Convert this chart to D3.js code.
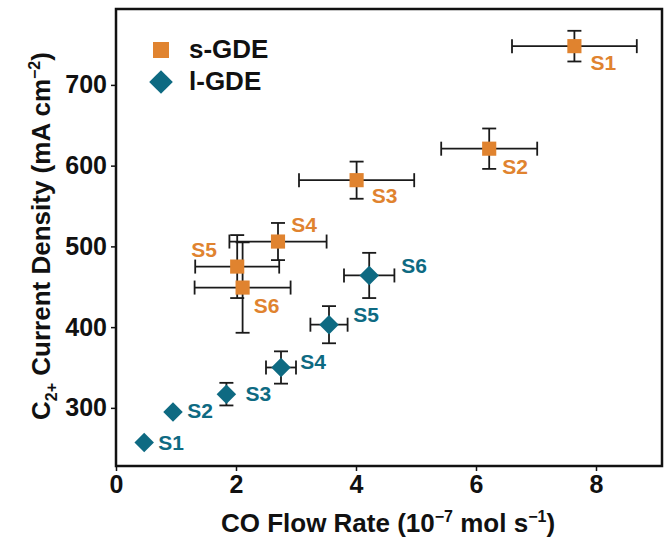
<!DOCTYPE html>
<html>
<head>
<meta charset="utf-8">
<script src="https://cdn.jsdelivr.net/npm/d3@7"></script>
<style>
  body { margin: 0; background: #fff; }
  text { font-family: "Liberation Sans", Arial, sans-serif; }
</style>
</head>
<body>
<svg id="chart" width="672" height="539"></svg>
<script>
// s-GDE (orange squares)
var sNames = ["S1", "S2", "S3", "S4", "S5", "S6"];
var sFlow = [7.64, 6.22, 4.01, 2.70, 2.02, 2.11];
var sFlowErr = [1.04, 0.80, 0.96, 0.81, 0.70, 0.80];
var sCurrent = [748, 621, 582, 506, 475, 449];
var sCurrentErr = [19, 25, 23, 23, 39, 56];

// l-GDE (teal diamonds)
var lNames = ["S1", "S2", "S3", "S4", "S5", "S6"];
var lFlow = [0.47, 0.95, 1.84, 2.75, 3.55, 4.22];
var lFlowErr = [0, 0, 0, 0.25, 0.31, 0.42];
var lCurrent = [257, 295, 317, 350, 403, 464];
var lCurrentErr = [0, 0, 14, 20, 23, 28];

var xTicks = [0, 2, 4, 6, 8];
var yTicks = [300, 400, 500, 600, 700];

// label placement (px offsets from marker)
var sLabelDx = [29, 26, 28, 26, -33, 24];
var sLabelDy = [17, 18, 15, -17, -17, 18];
var lLabelDx = [27, 27, 32, 32, 37, 45];
var lLabelDy = [0, -1, 0, -6, -10, -10];

var orange = "#E0832F";
var teal = "#0E6A82";

var svg = d3.select("#chart");
var margin = { left: 116, top: 9, right: 10, bottom: 73 };
var w = 672 - margin.left - margin.right;
var h = 539 - margin.top - margin.bottom;

var x = d3.scaleLinear().domain([0, 9.1]).range([0, w]);
var y = d3.scaleLinear().domain([228, 794]).range([h, 0]);

var g = svg.append("g").attr("transform", "translate(" + margin.left + "," + margin.top + ")");

// axes
var xAxis = g.append("g")
  .attr("transform", "translate(0," + h + ")")
  .call(d3.axisBottom(x).tickValues(xTicks).tickSize(5).tickSizeOuter(0).tickPadding(4));
var yAxis = g.append("g")
  .call(d3.axisLeft(y).tickValues(yTicks).tickSize(5).tickSizeOuter(0).tickPadding(4));
[xAxis, yAxis].forEach(function (a) {
  a.select(".domain").remove();
  a.selectAll(".tick line").attr("stroke", "#111").attr("stroke-width", 1.5);
  a.selectAll(".tick text")
    .attr("fill", "#111")
    .style("font-size", "25px")
    .style("font-weight", "bold");
});

g.append("rect")
  .attr("width", w).attr("height", h)
  .attr("fill", "none").attr("stroke", "#111").attr("stroke-width", 2.5);

function makeRows(names, fx, fxe, cy, cye) {
  return names.map(function (n, i) {
    return { name: n, x: fx[i], xe: fxe[i], y: cy[i], ye: cye[i], i: i };
  });
}
var sRows = makeRows(sNames, sFlow, sFlowErr, sCurrent, sCurrentErr);
var lRows = makeRows(lNames, lFlow, lFlowErr, lCurrent, lCurrentErr);

var cap = 7;
function drawErrors(rows) {
  var eg = g.append("g").attr("stroke", "#1a1a1a").attr("stroke-width", 1.8).attr("fill", "none");
  rows.forEach(function (d) {
    var cx = x(d.x), cy = y(d.y);
    if (d.xe > 0) {
      var x0 = x(d.x - d.xe), x1 = x(d.x + d.xe);
      eg.append("line").attr("x1", x0).attr("x2", x1).attr("y1", cy).attr("y2", cy);
      eg.append("line").attr("x1", x0).attr("x2", x0).attr("y1", cy - cap).attr("y2", cy + cap);
      eg.append("line").attr("x1", x1).attr("x2", x1).attr("y1", cy - cap).attr("y2", cy + cap);
    }
    if (d.ye > 0) {
      var y0 = y(d.y - d.ye), y1 = y(d.y + d.ye);
      eg.append("line").attr("x1", cx).attr("x2", cx).attr("y1", y0).attr("y2", y1);
      eg.append("line").attr("x1", cx - cap).attr("x2", cx + cap).attr("y1", y0).attr("y2", y0);
      eg.append("line").attr("x1", cx - cap).attr("x2", cx + cap).attr("y1", y1).attr("y2", y1);
    }
  });
}
drawErrors(sRows);
drawErrors(lRows);

var sq = d3.symbol().type(d3.symbolSquare).size(200);
var dm = d3.symbol().type(d3.symbolSquare).size(190);

g.selectAll(".sq").data(sRows).enter().append("path")
  .attr("d", sq)
  .attr("transform", function (d) { return "translate(" + x(d.x) + "," + y(d.y) + ")"; })
  .attr("fill", orange);

g.selectAll(".dm").data(lRows).enter().append("path")
  .attr("d", dm)
  .attr("transform", function (d) { return "translate(" + x(d.x) + "," + y(d.y) + ") rotate(45)"; })
  .attr("fill", teal);

g.selectAll(".sl").data(sRows).enter().append("text")
  .attr("x", function (d) { return x(d.x) + sLabelDx[d.i]; })
  .attr("y", function (d) { return y(d.y) + sLabelDy[d.i]; })
  .attr("text-anchor", "middle").attr("dy", "0.35em")
  .attr("fill", orange)
  .style("font-size", "21px").style("font-weight", "bold")
  .text(function (d) { return d.name; });

g.selectAll(".ll").data(lRows).enter().append("text")
  .attr("x", function (d) { return x(d.x) + lLabelDx[d.i]; })
  .attr("y", function (d) { return y(d.y) + lLabelDy[d.i]; })
  .attr("text-anchor", "middle").attr("dy", "0.35em")
  .attr("fill", teal)
  .style("font-size", "21px").style("font-weight", "bold")
  .text(function (d) { return d.name; });

// legend
var lg = svg.append("g");
lg.append("rect").attr("x", 153).attr("y", 42).attr("width", 16).attr("height", 16).attr("fill", orange);
lg.append("path").attr("d", d3.symbol().type(d3.symbolSquare).size(280))
  .attr("transform", "translate(161,82) rotate(45)").attr("fill", teal);
lg.append("text").attr("x", 189).attr("y", 58).text("s-GDE")
  .style("font-size", "26px").style("font-weight", "bold").attr("fill", "#111");
lg.append("text").attr("x", 189).attr("y", 90).text("l-GDE")
  .style("font-size", "26px").style("font-weight", "bold").attr("fill", "#111");

// axis titles
var xt = svg.append("text")
  .attr("x", 388).attr("y", 532)
  .attr("text-anchor", "middle")
  .style("font-size", "26px").style("font-weight", "bold").attr("fill", "#111");
xt.append("tspan").text("CO Flow Rate (10");
xt.append("tspan").attr("dy", -10).style("font-size", "16px").text("\u22127");
xt.append("tspan").attr("dy", 10).text(" mol s");
xt.append("tspan").attr("dy", -10).style("font-size", "16px").text("\u22121");
xt.append("tspan").attr("dy", 10).text(")");

var yt = svg.append("text")
  .attr("transform", "translate(50,236) rotate(-90)")
  .attr("text-anchor", "middle")
  .style("font-size", "26px").style("font-weight", "bold").attr("fill", "#111");
yt.append("tspan").text("C");
yt.append("tspan").attr("dy", 7).style("font-size", "16px").text("2+");
yt.append("tspan").attr("dy", -7).text("  Current Density (mA cm");
yt.append("tspan").attr("dy", -10).style("font-size", "16px").text("\u22122");
yt.append("tspan").attr("dy", 10).text(")");
</script>
</body>
</html>
